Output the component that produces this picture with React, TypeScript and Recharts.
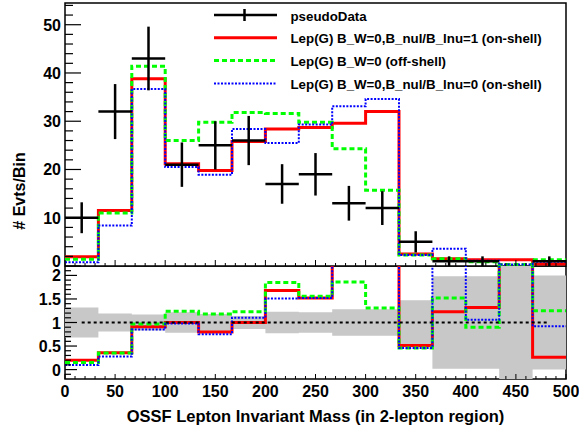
import React from "react";
import {
  ComposedChart,
  Line,
  Area,
  Scatter,
  ErrorBar,
  XAxis,
  YAxis,
  ReferenceArea,
} from "recharts";

// bin edges of the OSSF mass histogram (15 bins, 0..500)
const binEdges = [0, 33.33, 66.67, 100, 133.33, 166.67, 200, 233.33, 266.67, 300, 333.33, 366.67, 400, 433.33, 466.67, 500];

// pseudo data (counts) and their errors
const dataCounts = [10, 32, 43, 21, 25, 26, 17, 19, 13, 12, 5, 1, 1, 0, 1];
const dataErrors = [3.2, 5.7, 6.6, 4.6, 5.0, 5.1, 4.1, 4.4, 3.6, 3.5, 2.2, 1, 1, 0, 1];

// model predictions, events per bin
const onShellNul1 = [1.9, 11.5, 38.8, 21.2, 19.8, 25.8, 28.4, 28.7, 29.6, 32.0, 2.5, 1.5, 1.3, 1.3, 0.4];
const offShell = [1.4, 11.0, 41.4, 26.0, 29.8, 31.8, 31.6, 29.8, 24.3, 15.7, 2.3, 1.5, 0.9, 0.3, 1.3];
const onShellNul0 = [0.8, 8.4, 36.7, 20.5, 18.9, 28.4, 25.5, 29.3, 33.1, 34.6, 2.3, 3.6, 1.1, 0.3, 0.9];

// model / data ratios (5 = off scale, data empty)
const ratioNul1 = [0.2, 0.36, 0.91, 1.0, 0.8, 1.0, 1.68, 1.52, 2.28, 2.67, 0.51, 1.23, 1.32, 5, 0.26];
const ratioOff = [0.15, 0.35, 0.97, 1.24, 1.18, 1.23, 1.85, 1.56, 1.86, 1.31, 0.46, 1.52, 0.9, 5, 1.25];
const ratioNul0 = [0.1, 0.28, 0.85, 0.98, 0.75, 1.1, 1.51, 1.52, 2.55, 2.9, 0.46, 3.6, 1.06, 5, 0.92];

// half width of the grey uncertainty band around 1
const bandHalf = [0.32, 0.19, 0.17, 0.22, 0.18, 0.14, 0.23, 0.22, 0.28, 0.28, 0.47, 0.98, 0.98, 3, 1.0];

const yTopLabels = [0, 10, 20, 30, 40, 50];
const yRatioLabels = [0, 0.5, 1, 1.5, 2];

const legendItems = [
  { name: "pseudoData", color: "#000", dash: "", width: 2.5, cross: true },
  { name: "Lep(G) B_W=0,B_nul/B_lnu=1 (on-shell)", color: "#ff0000", dash: "", width: 3, cross: false },
  { name: "Lep(G) B_W=0 (off-shell)", color: "#00ff00", dash: "5 3", width: 3, cross: false },
  { name: "Lep(G) B_W=0,B_nul/B_lnu=0 (on-shell)", color: "#0000ff", dash: "2 1.5", width: 2, cross: false },
];

const W = 579;
const TOP_H = 272;
const BOT_H = 166;
const FONT = "'Liberation Sans', Arial, Helvetica, sans-serif";
const TOP_MAX = 54.5;
const R_MIN = -0.2;
const R_MAX = 2.2;

const xMinorTicks = Array.from({ length: 51 }, (_, i) => i * 10);
const yTopTicks = Array.from({ length: 28 }, (_, i) => i * 2);
const yRatioTicks = Array.from({ length: 23 }, (_, i) => Math.round(i - 1) / 10);

const binCenters = binEdges.slice(0, -1).map((e, i) => (e + binEdges[i + 1]) / 2);

const stepRows = (values: number[]) =>
  binEdges.map((x, i) => ({ x, v: values[Math.min(i, values.length - 1)] }));

const bandRows = binEdges.map((x, i) => {
  const h = bandHalf[Math.min(i, bandHalf.length - 1)];
  return { x, band: [1 - h, 1 + h] };
});

const dataPoints = binCenters
  .map((x, i) => ({ x, y: dataCounts[i], ex: (binEdges[i + 1] - binEdges[i]) / 2, ey: dataErrors[i] }))
  .filter((p) => p.y > 0);

const unityRows = binCenters.map((x) => ({ x, one: 1 }));

const isMultiple = (v: number, step: number) => Math.abs(v / step - Math.round(v / step)) < 1e-6;

const XTick = (props: any) => {
  const { x, y, payload, majorLen, minorLen, showLabel } = props;
  const major = isMultiple(payload.value, 50);
  return (
    <g>
      <line x1={x} x2={x} y1={y} y2={y - (major ? majorLen : minorLen)} stroke="#000" strokeWidth={1} />
      {showLabel && major && (
        <text x={x} y={y + 18} textAnchor="middle" fontFamily={FONT} fontWeight="bold" fontSize={16} fill="#000">
          {payload.value}
        </text>
      )}
    </g>
  );
};

const YTick = (props: any) => {
  const { x, y, payload, step, majorLen, minorLen, labels, zeroDy } = props;
  const major = isMultiple(payload.value, step);
  const showLabel = labels.some((l: number) => Math.abs(l - payload.value) < 1e-6);
  const dy = zeroDy !== undefined && payload.value === 0 ? zeroDy : 6;
  return (
    <g>
      <line x1={x} x2={x + (major ? majorLen : minorLen)} y1={y} y2={y} stroke="#000" strokeWidth={1.2} />
      {showLabel && (
        <text x={x - 4} y={y} dy={dy} textAnchor="end" fontFamily={FONT} fontWeight="bold" fontSize={16} fill="#000">
          {payload.value}
        </text>
      )}
    </g>
  );
};

const Legend = () => (
  <svg width={W} height={100} style={{ position: "absolute", left: 0, top: 0 }}>
    {legendItems.map((it, i) => {
      const y = 15 + i * 22.8;
      return (
        <g key={it.name}>
          <line x1={214} x2={277} y1={y} y2={y} stroke={it.color} strokeWidth={it.width} strokeDasharray={it.dash} />
          {it.cross && <line x1={244.5} x2={244.5} y1={y - 6} y2={y + 6} stroke={it.color} strokeWidth={2.5} />}
          <text x={290.5} y={y + 5.5} fontFamily={FONT} fontWeight="bold" fontSize={13.3} fill="#000">
            {it.name}
          </text>
        </g>
      );
    })}
  </svg>
);

export default function App() {
  return (
    <div style={{ position: "fixed", left: 0, top: 0, width: W, height: 432, background: "#fff" }}>
      <div style={{ position: "absolute", left: 0, top: 0 }}>
        <ComposedChart width={W} height={TOP_H} margin={{ top: 3, right: 13, bottom: 5, left: 0 }}>
          <XAxis
            type="number"
            dataKey="x"
            domain={[0, 500]}
            ticks={xMinorTicks}
            interval={0}
            height={1}
            tickSize={0}
            tickMargin={0}
            axisLine={false}
            tickLine={false}
            tick={(p: any) => <XTick {...p} majorLen={6} minorLen={3} showLabel={false} />}
          />
          <YAxis
            type="number"
            domain={[0, TOP_MAX]}
            allowDataOverflow
            ticks={yTopTicks}
            interval={0}
            width={65}
            tickSize={0}
            tickMargin={0}
            axisLine={false}
            tickLine={false}
            tick={(p: any) => <YTick {...p} step={10} majorLen={16} minorLen={8} labels={yTopLabels} zeroDy={1} />}
          />
          <ReferenceArea x1={0} x2={500} y1={0} y2={TOP_MAX} fill="none" stroke="#000" strokeWidth={1.5} />
          <Line type="stepAfter" data={stepRows(onShellNul1)} dataKey="v" stroke="#ff0000" strokeWidth={3} dot={false} isAnimationActive={false} />
          <Line type="stepAfter" data={stepRows(offShell)} dataKey="v" stroke="#00ff00" strokeWidth={3} strokeDasharray="5 3" dot={false} isAnimationActive={false} />
          <Line type="stepAfter" data={stepRows(onShellNul0)} dataKey="v" stroke="#0000ff" strokeWidth={2} strokeDasharray="2 1.5" dot={false} isAnimationActive={false} />
          <Scatter data={dataPoints} dataKey="y" shape={() => <g />} isAnimationActive={false}>
            <ErrorBar dataKey="ex" direction="x" width={0} stroke="#000" strokeWidth={2.5} />
            <ErrorBar dataKey="ey" direction="y" width={0} stroke="#000" strokeWidth={2.5} />
          </Scatter>
        </ComposedChart>
      </div>
      <div style={{ position: "absolute", left: 0, top: 266 }}>
        <ComposedChart width={W} height={BOT_H} margin={{ top: 0, right: 13, bottom: 0, left: 0 }}>
          <XAxis
            type="number"
            dataKey="x"
            domain={[0, 500]}
            ticks={xMinorTicks}
            interval={0}
            height={53}
            tickSize={0}
            tickMargin={0}
            axisLine={false}
            tickLine={false}
            tick={(p: any) => <XTick {...p} majorLen={5} minorLen={3} showLabel />}
            label={{
              value: "OSSF Lepton Invariant Mass (in 2-lepton region)",
              position: "insideBottom",
              offset: 10.5,
              style: { fontFamily: FONT, fontWeight: "bold", fontSize: 16.5, fill: "#000" },
            }}
          />
          <YAxis
            type="number"
            domain={[R_MIN, R_MAX]}
            allowDataOverflow
            ticks={yRatioTicks}
            interval={0}
            width={65}
            tickSize={0}
            tickMargin={0}
            axisLine={false}
            tickLine={false}
            tick={(p: any) => <YTick {...p} step={0.5} majorLen={12} minorLen={6} labels={yRatioLabels} />}
          />
          <ReferenceArea x1={0} x2={500} y1={R_MIN} y2={R_MAX} fill="none" stroke="#000" strokeWidth={1.5} />
          <Area type="stepAfter" data={bandRows} dataKey="band" stroke="none" fill="#c8c8c8" fillOpacity={1} isAnimationActive={false} />
          <Line type="stepAfter" data={stepRows(ratioNul1)} dataKey="v" stroke="#ff0000" strokeWidth={3} dot={false} isAnimationActive={false} />
          <Line type="stepAfter" data={stepRows(ratioOff)} dataKey="v" stroke="#00ff00" strokeWidth={3} strokeDasharray="5 3" dot={false} isAnimationActive={false} />
          <Line type="stepAfter" data={stepRows(ratioNul0)} dataKey="v" stroke="#0000ff" strokeWidth={2} strokeDasharray="2 1.5" dot={false} isAnimationActive={false} />
          <Line type="linear" data={unityRows} dataKey="one" stroke="#000" strokeWidth={2} strokeDasharray="3 3" dot={false} isAnimationActive={false} />
        </ComposedChart>
      </div>
      <Legend />
      <svg width={60} height={432} style={{ position: "absolute", left: 0, top: 0 }}>
        <text x={25} y={191} transform="rotate(-90 25 191)" textAnchor="middle" fontFamily={FONT} fontWeight="bold" fontSize={16} fill="#000">
          # Evts/Bin
        </text>
      </svg>
    </div>
  );
}
